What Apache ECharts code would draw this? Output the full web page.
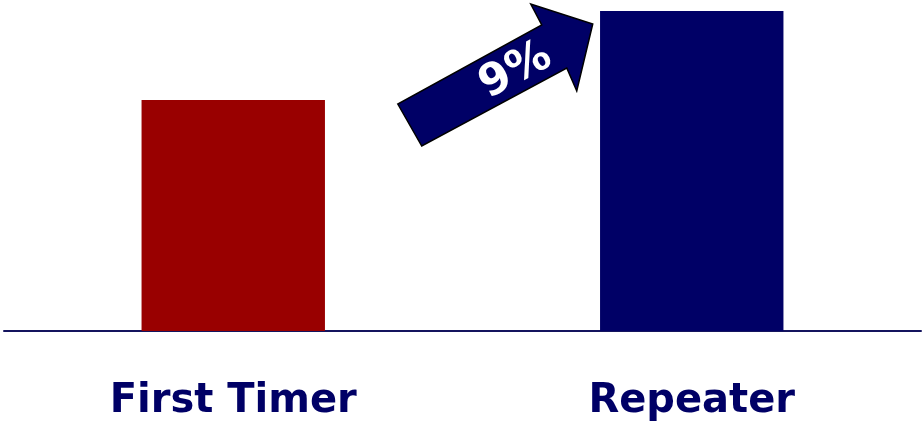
<!DOCTYPE html>
<html>
<head>
<meta charset="utf-8">
<script src="https://cdn.jsdelivr.net/npm/echarts@6/dist/echarts.min.js"></script>
<style>
  html, body { margin: 0; padding: 0; background: #fff; }
  #chart { width: 922px; height: 428px; }
</style>
</head>
<body>
<div id="chart"></div>
<script>
const categories = ['First Timer', 'Repeater']
const values = [72.2, 100]
const barColors = ['#990000', '#000066']
const growthLabel = '9%'

const myChart = echarts.init(document.getElementById('chart'))

const option = {
  backgroundColor: '#fff',
  animation: false,
  grid: { left: 4, right: 1, top: 11, bottom: 97 },
  xAxis: {
    type: 'category',
    data: categories,
    axisTick: { show: false },
    axisLine: { lineStyle: { color: '#14145e', width: 2 } },
    axisLabel: {
      margin: 51,
      color: '#000066',
      fontFamily: 'DejaVu Sans',
      fontWeight: 'bold',
      fontSize: 40
    }
  },
  yAxis: {
    type: 'value',
    min: 0,
    max: 100,
    show: false,
    splitLine: { show: false }
  },
  series: [
    {
      type: 'bar',
      barWidth: '40%',
      data: values.map((v, i) => ({ value: v, itemStyle: { color: barColors[i] } }))
    }
  ]
}
myChart.setOption(option)

// arrow positioned off the top-left corner of the Repeater bar
const barTop = myChart.convertToPixel({ seriesIndex: 0 }, [categories[1], values[1]])
const ox = barTop[0] - 92 // bar left edge
const oy = barTop[1]
const arrowPts = [
  [-202, 93], [-178, 135], [-33, 57], [-23, 80], [-7, 13], [-69, -7], [-58, 14]
].map(p => [ox + p[0], oy + p[1]])

myChart.setOption({
  graphic: [
    {
      type: 'polygon',
      shape: { points: arrowPts },
      style: { fill: '#000066', stroke: '#000', lineWidth: 1.5 },
      z: 10
    },
    {
      type: 'text',
      x: ox - 84,
      y: oy + 60,
      rotation: 28 * Math.PI / 180,
      style: {
        text: growthLabel,
        fill: '#fff',
        font: 'bold 44px "DejaVu Sans"',
        align: 'center',
        verticalAlign: 'middle'
      },
      z: 11
    }
  ]
})
</script>
</body>
</html>
